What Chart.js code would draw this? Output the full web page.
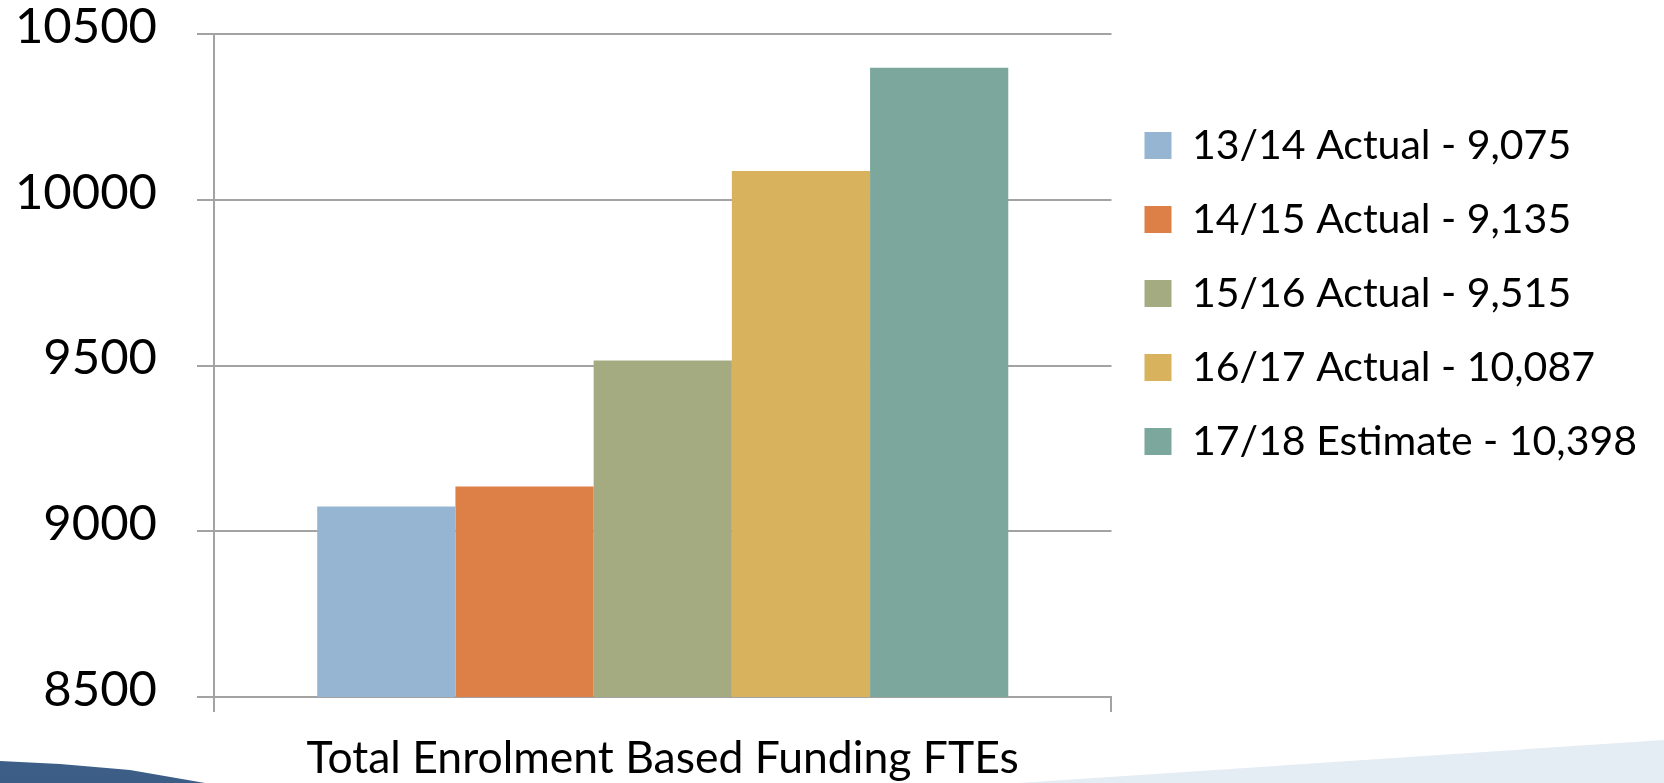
<!DOCTYPE html>
<html>
<head>
<meta charset="utf-8">
<script src="https://cdn.jsdelivr.net/npm/chart.js@4.4.1/dist/chart.umd.min.js"></script>
<style>
  html, body { margin: 0; padding: 0; background: #fff; }
  #wrap { position: relative; width: 1664px; height: 783px; overflow: hidden; }
  .deco { position: absolute; left: 0; top: 0; width: 1664px; height: 783px; }
  #swoosh { background: linear-gradient(180deg, #7f9cbd 0%, #4a6f99 60%, #3b5d86 100%);
    clip-path: polygon(0 761px, 60px 764px, 130px 770px, 205px 783px, 0 783px); }
  #band { background: #e4ecf4; clip-path: polygon(1019px 783px, 1664px 740px, 1664px 783px); }
  #chart { position: absolute; left: 0; top: 0; }
</style>
</head>
<body>
<div id="wrap">
  <div class="deco" id="swoosh"></div>
  <div class="deco" id="band"></div>
  <canvas id="chart" width="1664" height="783"></canvas>
</div>
<script>
// --- Datos ---
const categorias = ['Total Enrolment Based Funding FTEs'];
const series = ['13/14 Actual - 9,075', '14/15 Actual - 9,135', '15/16 Actual - 9,515', '16/17 Actual - 10,087', '17/18 Estimate - 10,398'];
const valores = [9075, 9135, 9515, 10087, 10398];
const colores = ['#95b5d3', '#dd8047', '#a5ab81', '#d8b25c', '#7ba79d'];
const yMin = 8500;
const yMax = 10500;
const yPaso = 500;

const FONT = 'Lato, "Open Sans", sans-serif';
const gris = '#a3a3a3';

const datasets = series.map((nombre, i) => ({
  label: nombre,
  data: [valores[i]],
  backgroundColor: colores[i],
  borderWidth: 0,
  categoryPercentage: 0.77,
  barPercentage: 1
}));

new Chart(document.getElementById('chart'), {
  type: 'bar',
  data: { labels: categorias, datasets: datasets },
  options: {
    responsive: false,
    animation: false,
    layout: { padding: { top: 34, left: 15, right: 17, bottom: 0 } },
    plugins: {
      tooltip: { enabled: false },
      legend: {
        position: 'right',
        align: 'start',
        maxWidth: 700,
        // titulo vacio solo para bajar la leyenda
        title: { display: true, text: '', font: { size: 10 }, padding: { top: 46, bottom: 0 } },
        labels: {
          boxWidth: 27,
          boxHeight: 27,
          padding: 33,
          color: '#000',
          font: { family: FONT, size: 41 }
        }
      }
    },
    scales: {
      x: {
        afterFit: s => { s.height = 86; s.paddingLeft = 0; s.paddingRight = 0; },
        grid: { display: true, drawOnChartArea: false, drawTicks: true, tickLength: 15, color: gris, lineWidth: 2, offset: true },
        border: { color: gris, width: 2 },
        ticks: { color: '#000', padding: 20, maxRotation: 0, font: { family: FONT, size: 44.5 } }
      },
      y: {
        min: yMin,
        max: yMax,
        afterFit: s => { s.width = 199; s.paddingTop = 0; s.paddingBottom = 0; },
        ticks: { stepSize: yPaso, color: '#000', padding: 40, labelOffset: -7, font: { family: FONT, size: 49 },
          callback: v => String(v) },
        grid: { color: gris, lineWidth: 2, tickLength: 17 },
        border: { color: gris, width: 2 }
      }
    }
  }
});
</script>
</body>
</html>
